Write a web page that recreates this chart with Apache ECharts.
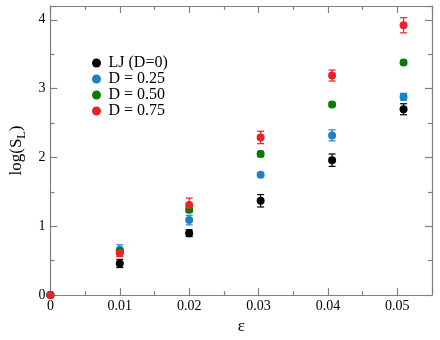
<!DOCTYPE html>
<html><head><meta charset="utf-8">
<script src="https://cdn.jsdelivr.net/npm/echarts@6/dist/echarts.min.js"></script>
<style>html,body{margin:0;padding:0;background:#fff}#c{width:440px;height:340px}</style>
</head><body><div id="c"></div>
<script>
var eps = [0, 0.01, 0.02, 0.0303, 0.0406, 0.0509];
var seriesNames = ['LJ (D=0)', 'D = 0.25', 'D = 0.50', 'D = 0.75'];
var lj = [0, 0.46, 0.90, 1.37, 1.96, 2.70];
var ljErr = [0, 0.06, 0.05, 0.09, 0.09, 0.08];
var d25 = [0, 0.66, 1.09, 1.75, 2.32, 2.88];
var d25Err = [0, 0.07, 0.07, 0.02, 0.08, 0.05];
var d50 = [0, 0.64, 1.24, 2.05, 2.77, 3.38];
var d50Err = [0, 0.03, 0.04, 0.04, 0.03, 0.03];
var d75 = [0, 0.61, 1.31, 2.29, 3.19, 3.92];
var d75Err = [0, 0.05, 0.10, 0.09, 0.08, 0.11];
var xTicks = [0, 0.01, 0.02, 0.03, 0.04, 0.05];
var yTicks = [0, 1, 2, 3, 4];

var colors = ['#000000', '#1f80c4', '#0a7a0a', '#e8212a'];
var vals = [lj, d25, d50, d75];
var errs = [ljErr, d25Err, d50Err, d75Err];
var serif = 'Liberation Serif, Times New Roman, serif';
var axisCol = '#808080';

var series = [];
vals.forEach(function (v, i) {
  series.push({
    type: 'custom', name: seriesNames[i] + ' err', xAxisIndex: 0, yAxisIndex: 0,
    data: eps.map(function (x, k) { return [x, v[k] - errs[i][k], v[k] + errs[i][k]]; }),
    renderItem: function (params, api) {
      var lo = api.coord([api.value(0), api.value(1)]);
      var hi = api.coord([api.value(0), api.value(2)]);
      var w = 3.5;
      var st = { stroke: colors[i], lineWidth: 1.2 };
      return { type: 'group', children: [
        { type: 'line', shape: { x1: lo[0], y1: lo[1], x2: hi[0], y2: hi[1] }, style: st },
        { type: 'line', shape: { x1: lo[0] - w, y1: lo[1], x2: lo[0] + w, y2: lo[1] }, style: st },
        { type: 'line', shape: { x1: hi[0] - w, y1: hi[1], x2: hi[0] + w, y2: hi[1] }, style: st }
      ]};
    },
    z: 2, silent: true
  });
});
vals.forEach(function (v, i) {
  series.push({
    type: 'scatter', name: seriesNames[i], xAxisIndex: 0, yAxisIndex: 0,
    symbol: 'circle', symbolSize: 8,
    itemStyle: { color: colors[i], opacity: 1 },
    data: eps.map(function (x, k) { return [x, v[k]]; }),
    z: 3
  });
});

function xAx(pos, labels) {
  return {
    type: 'value', position: pos, min: 0, max: 0.055, interval: 0.01,
    axisLine: { show: true, onZero: false, lineStyle: { color: axisCol, width: 1.2 } },
    axisTick: { show: true, inside: true, length: 7, lineStyle: { color: axisCol, width: 1.2 } },
    minorTick: { show: true, splitNumber: 2, length: 4, lineStyle: { color: axisCol, width: 1.2 } },
    splitLine: { show: false },
    axisLabel: { show: labels, showMaxLabel: false, color: '#000', fontFamily: serif, fontSize: 14, margin: 4,
      formatter: function (v) { return xTicks.indexOf(Math.round(v * 1000) / 1000) >= 0 ? String(Math.round(v * 1000) / 1000) : ''; } },
    name: labels ? 'ε' : '', nameLocation: 'middle', nameGap: 18,
    nameTextStyle: { color: '#000', fontFamily: serif, fontSize: 17, padding: [0, 0, 0, 0] }
  };
}
function yAx(pos, labels) {
  return {
    type: 'value', position: pos, min: 0, max: 4.2, interval: 1,
    axisLine: { show: true, onZero: false, lineStyle: { color: axisCol, width: 1.2 } },
    axisTick: { show: true, inside: true, length: 7, lineStyle: { color: axisCol, width: 1.2 } },
    minorTick: { show: true, splitNumber: 2, length: 4, lineStyle: { color: axisCol, width: 1.2 } },
    splitLine: { show: false },
    axisLabel: { show: labels, showMaxLabel: false, color: '#000', fontFamily: serif, fontSize: 14, margin: 5,
      formatter: function (v) { return yTicks.indexOf(v) >= 0 ? String(v) : ''; } },
    name: labels ? 'log(S{sub|L})' : '', nameLocation: 'middle', nameGap: 18, nameRotate: 90,
    nameTextStyle: { color: '#000', fontFamily: serif, fontSize: 17,
      rich: { sub: { fontFamily: serif, fontSize: 12, verticalAlign: 'bottom', padding: [10, 0, 0, 0] } } }
  };
}

var chart = echarts.init(document.getElementById('c'), null, { renderer: 'canvas' });
chart.setOption({
  animation: false,
  backgroundColor: '#fff',
  grid: { left: 44, right: 8, top: 6, bottom: 34 },
  xAxis: [xAx('bottom', true), xAx('top', false)],
  yAxis: [yAx('left', true), yAx('right', false)],
  legend: {
    data: seriesNames, orient: 'vertical', left: 87, top: 50,
    icon: 'circle', itemWidth: 10, itemHeight: 9, itemGap: 0,
    textStyle: { color: '#000', fontFamily: serif, fontSize: 16, padding: [0, 0, 0, 2] }
  },
  series: series
});
</script></body></html>
